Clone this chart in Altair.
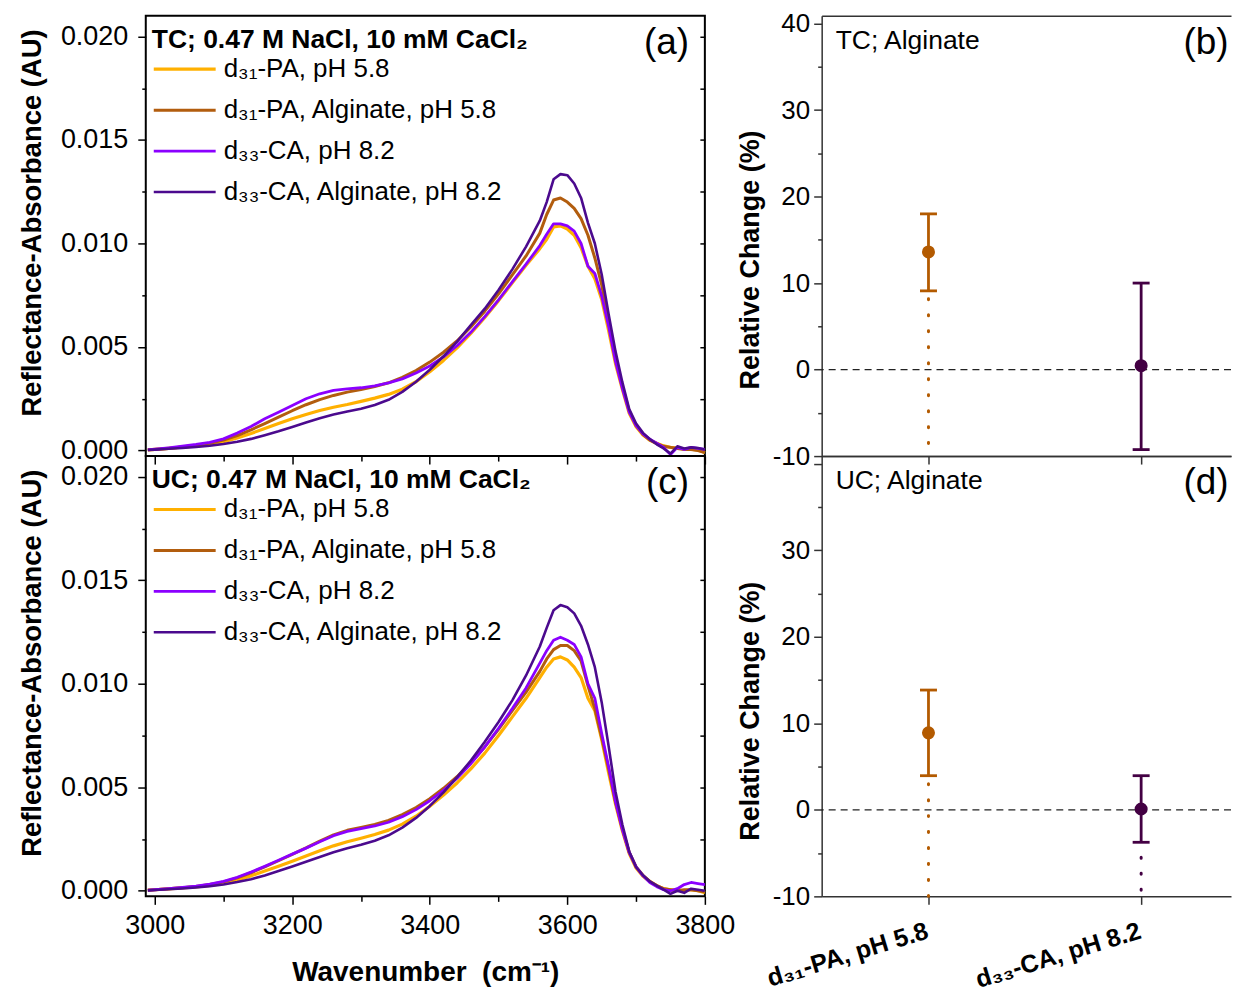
import altair as alt
import pandas as pd

FONT = "Liberation Sans"

# ---------------- spectra (values in 1e-3 AU) ----------------
wavenumber = [2990, 3000, 3020, 3040, 3060, 3080, 3100, 3120, 3140, 3160,
              3180, 3200, 3220, 3240, 3260, 3280, 3300, 3320, 3340, 3360,
              3380, 3400, 3420, 3440, 3460, 3480, 3500, 3520, 3540, 3560,
              3570, 3580, 3590, 3600, 3610, 3620, 3630, 3640, 3650, 3660,
              3670, 3680, 3690, 3700, 3710, 3720, 3730, 3740, 3750, 3760,
              3770, 3780, 3790, 3800]

tc_pa = [0.03, 0.05, 0.10, 0.16, 0.22, 0.30, 0.42, 0.60, 0.82, 1.06,
         1.30, 1.53, 1.74, 1.93, 2.09, 2.22, 2.37, 2.53, 2.71, 2.96,
         3.32, 3.80, 4.35, 4.97, 5.67, 6.43, 7.24, 8.10, 8.95, 9.75,
         10.2, 10.8, 10.85, 10.7, 10.4, 9.8, 8.9, 8.3, 7.3, 5.8,
         4.2, 2.95, 1.8, 1.15, 0.75, 0.5, 0.35, 0.22, 0.15, 0.12,
         0.08, 0.06, 0.02, -0.1]
tc_pa_alg = [0.03, 0.05, 0.10, 0.17, 0.25, 0.35, 0.50, 0.72, 1.00, 1.30,
             1.61, 1.92, 2.21, 2.46, 2.66, 2.82, 2.95, 3.09, 3.27, 3.53,
             3.86, 4.27, 4.75, 5.30, 5.98, 6.73, 7.57, 8.48, 9.40, 10.5,
             11.4, 12.1, 12.2, 12.0, 11.7, 11.2, 10.4, 9.3, 8.0, 6.2,
             4.5, 3.1, 1.9, 1.2, 0.78, 0.5, 0.33, 0.2, 0.15, 0.1,
             0.05, 0.05, 0.0, -0.1]
tc_ca = [0.03, 0.06, 0.13, 0.21, 0.29, 0.39, 0.56, 0.84, 1.16, 1.53,
         1.85, 2.17, 2.50, 2.74, 2.90, 2.98, 3.03, 3.12, 3.27, 3.46,
         3.74, 4.08, 4.52, 5.07, 5.72, 6.47, 7.28, 8.15, 9.0, 9.9,
         10.45, 10.95, 10.95, 10.85, 10.6, 10.0, 8.9, 8.55, 7.45, 6.0,
         4.3, 3.0, 1.85, 1.2, 0.8, 0.55, 0.35, 0.15, -0.2, 0.15,
         0.05, 0.15, 0.1, 0.05]
tc_ca_alg = [0.02, 0.04, 0.08, 0.12, 0.17, 0.23, 0.31, 0.42, 0.56, 0.74,
             0.93, 1.14, 1.35, 1.56, 1.74, 1.88, 2.02, 2.20, 2.45, 2.83,
             3.32, 3.90, 4.55, 5.27, 6.07, 6.85, 7.75, 8.75, 9.85, 11.1,
             12.0, 13.1, 13.35, 13.3, 12.9, 12.2, 11.0, 10.0, 8.5, 6.6,
             4.8, 3.3, 2.0, 1.3, 0.85, 0.55, 0.3, 0.1, -0.15, 0.2,
             0.1, 0.15, 0.12, 0.05]

uc_pa = [0.03, 0.05, 0.09, 0.14, 0.19, 0.26, 0.36, 0.52, 0.72, 0.95,
         1.19, 1.43, 1.68, 1.93, 2.17, 2.37, 2.54, 2.72, 2.93, 3.22,
         3.60, 4.08, 4.62, 5.22, 5.90, 6.65, 7.50, 8.40, 9.30, 10.3,
         10.8, 11.2, 11.3, 11.15, 10.8, 10.3, 9.3, 8.7, 7.3, 5.7,
         4.2, 2.9, 1.8, 1.1, 0.7, 0.45, 0.25, 0.1, 0.05, 0.05,
         0.0, 0.05, 0.0, -0.1]
uc_pa_alg = [0.03, 0.05, 0.10, 0.15, 0.21, 0.30, 0.43, 0.62, 0.87, 1.15,
             1.45, 1.76, 2.07, 2.40, 2.70, 2.92, 3.06, 3.20, 3.40, 3.68,
             4.02, 4.45, 4.95, 5.52, 6.20, 6.95, 7.80, 8.70, 9.60, 10.6,
             11.2, 11.65, 11.85, 11.85, 11.6, 11.1, 9.9, 8.8, 7.4, 5.9,
             4.3, 3.0, 1.85, 1.15, 0.75, 0.45, 0.25, 0.1, 0.05, 0.0,
             0.05, 0.05, 0.0, -0.05]
uc_ca = [0.03, 0.05, 0.10, 0.16, 0.22, 0.32, 0.45, 0.65, 0.90, 1.18,
         1.47, 1.77, 2.06, 2.37, 2.66, 2.87, 3.00, 3.13, 3.31, 3.58,
         3.92, 4.35, 4.85, 5.45, 6.15, 6.95, 7.85, 8.80, 9.80, 11.0,
         11.6, 12.1, 12.25, 12.1, 11.9, 11.3, 10.0, 9.3, 7.6, 6.0,
         4.3, 2.95, 1.85, 1.15, 0.72, 0.4, 0.2, 0.05, 0.0, 0.1,
         0.3, 0.4, 0.35, 0.3]
uc_ca_alg = [0.02, 0.04, 0.07, 0.11, 0.16, 0.22, 0.30, 0.42, 0.56, 0.74,
             0.95, 1.17, 1.40, 1.63, 1.86, 2.05, 2.22, 2.42, 2.68, 3.05,
             3.52, 4.10, 4.75, 5.50, 6.30, 7.20, 8.15, 9.20, 10.4, 11.8,
             12.7, 13.55, 13.8, 13.7, 13.4, 12.8, 11.9, 10.8, 9.1, 7.0,
             4.8, 3.2, 1.9, 1.15, 0.75, 0.45, 0.25, 0.05, -0.15, 0.0,
             -0.1, 0.1, 0.05, 0.0]

series_names = ["d₃₁-PA, pH 5.8", "d₃₁-PA, Alginate, pH 5.8",
                "d₃₃-CA, pH 8.2", "d₃₃-CA, Alginate, pH 8.2"]
line_colors = ["#FFB000", "#B25D0E", "#8B00FF", "#4B0A8E"]
line_widths = [3.2, 2.6, 3.2, 2.6]

x_ticks = [3000, 3100, 3200, 3300, 3400, 3500, 3600, 3700, 3800]
y_ticks = [0.0, 0.0025, 0.005, 0.0075, 0.01, 0.0125, 0.015, 0.0175, 0.02]

# ---------------- relative change panels ----------------
samples = ["d₃₁-PA, pH 5.8", "d₃₃-CA, pH 8.2"]
sample_colors = ["#B35A00", "#430043"]
tc_change = [13.6, 0.45]
tc_low = [9.1, -9.25]
tc_high = [18.0, 10.0]
tc_dot_top = [9.1, None]
uc_change = [8.9, 0.1]
uc_low = [3.95, -3.75]
uc_high = [13.85, 3.95]
uc_dot_top = [3.95, -4.55]
dot_bottom = -10
change_ticks = [-10, -5, 0, 5, 10, 15, 20, 25, 30, 35, 40]


def spectra_df(series):
    rows = []
    for name, vals in zip(series_names, series):
        for w, v in zip(wavenumber, vals):
            rows.append({"wavenumber": w, "absorbance": v / 1000.0, "series": name})
    return pd.DataFrame(rows)


def spectra_panel(series, legend_title, tag, bottom):
    df = spectra_df(series)
    xs = alt.Scale(domain=[2987, 3800], nice=False, zero=False)
    ys = alt.Scale(domain=[-0.00027, 0.0210], nice=False, zero=False)
    x_axis = alt.Axis(
        values=x_ticks, labels=bottom,
        labelExpr="datum.value % 200 == 0 ? format(datum.value, 'd') : ''",
        tickSize={"condition": {"test": "datum.value % 200 == 0", "value": 8}, "value": 5},
        tickWidth=1.5, tickColor="black", domain=False, grid=False,
        labelFontSize=27, labelPadding=8, labelFlush=False, labelOverlap=False,
        titleFontSize=28, titleFontWeight="bold", titlePadding=20)
    y_axis = alt.Axis(
        values=y_ticks,
        labelExpr="round(datum.value*400) % 2 == 0 ? format(datum.value, '.3f') : ''",
        tickSize={"condition": {"test": "round(datum.value*400) % 2 == 0", "value": 8}, "value": 4},
        tickWidth=1.5, tickColor="black", domain=False, grid=False,
        labelFontSize=27, labelPadding=10, labelOverlap=False, labelFlush=False,
        titleFontSize=27.5, titleFontWeight="bold", titlePadding=14, titleY=207)
    legend = alt.Legend(
        orient="none", legendX=6, legendY=11, direction="vertical",
        title=legend_title, titleFontSize=26.5, titleFontWeight="bold", titleFont=FONT,
        titleColor="black", titleLimit=700, titlePadding=3,
        symbolType="stroke", symbolSize=3844, symbolStrokeWidth=3.5,
        labelFontSize=26, labelFont=FONT, labelColor="black", labelLimit=700,
        labelOffset=6, clipHeight=26, rowPadding=15, padding=0)
    lines = alt.Chart(df).mark_line(strokeJoin="round").encode(
        x=alt.X("wavenumber:Q", scale=xs, axis=x_axis,
                title="Wavenumber\u00a0 (cm⁻¹)" if bottom else None),
        y=alt.Y("absorbance:Q", scale=ys, axis=y_axis, title="Reflectance-Absorbance (AU)"),
        color=alt.Color("series:N", scale=alt.Scale(domain=series_names, range=line_colors),
                        legend=legend),
        strokeWidth=alt.StrokeWidth("series:N", scale=alt.Scale(domain=series_names, range=line_widths),
                                    legend=None),
    )
    right_axis = alt.Axis(orient="right", values=y_ticks, labels=False, domain=False,
                          ticks=True, tickSize=5, tickColor="black", tickWidth=1.5,
                          offset=-5, grid=False)
    tag_df = pd.DataFrame({"x": [3777], "y": [0.0197], "t": [tag]})
    tag_layer = alt.Chart(tag_df).mark_text(
        align="right", baseline="middle", fontSize=37, font=FONT, color="black").encode(
        x=alt.X("x:Q", scale=xs, axis=None),
        y=alt.Y("y:Q", scale=ys, axis=right_axis, title=None),
        text="t:N")
    return alt.layer(lines, tag_layer).resolve_axis(x="independent", y="independent").properties(
        width=560, height=441)


def change_panel(vals, lows, highs, dot_tops, label_text, tag, bottom, title_y):
    df = pd.DataFrame({"sample": samples, "value": vals, "low": lows, "high": highs})
    dots = pd.DataFrame({
        "sample": [s for s, d in zip(samples, dot_tops) if d is not None],
        "top": [d for d in dot_tops if d is not None],
    })
    dots["bottom"] = dot_bottom
    xs = alt.Scale(type="point", domain=samples, padding=0.4624, align=0.5431)
    ys = alt.Scale(domain=[-10, 40.9], nice=False, zero=False)
    cs = alt.Scale(domain=samples, range=sample_colors)
    if bottom:
        lab_expr = "datum.value % 10 == 0 && datum.value < 40 ? '' + datum.value : ''"
    else:
        lab_expr = "datum.value % 10 == 0 ? '' + datum.value : ''"
    y_axis = alt.Axis(
        values=change_ticks, labelExpr=lab_expr,
        tickSize={"condition": {"test": "datum.value % 10 == 0", "value": 8}, "value": 4},
        tickWidth=1.5, tickColor="#333333", domain=True, domainColor="#333333", domainWidth=1.5,
        grid=False, labelFontSize=26, labelPadding=4, labelOverlap=False, labelFlush=False,
        titleFontSize=27, titleFontWeight="bold", titlePadding=8, titleY=title_y)
    x_axis = alt.Axis(
        labels=bottom, labelAngle=343, labelAlign="right", labelBaseline="top",
        labelFontSize=25, labelFontWeight="bold", labelPadding=14, labelOffset=-5,
        labelLimit=400, labelOverlap=False,
        tickSize=8, tickWidth=1.5, tickColor="#333333",
        domain=True, domainColor="#333333", domainWidth=1.5, grid=False)
    top_axis = alt.Axis(orient="top", labels=False, ticks=False, domain=True,
                        domainColor="#333333", domainWidth=1.5, grid=False)
    col = alt.Color("sample:N", scale=cs, legend=None)
    xn = alt.X("sample:N", scale=xs, axis=None)

    zero = alt.Chart(pd.DataFrame({"zero": [0]})).mark_rule(
        color="#222222", strokeWidth=1.3, strokeDash=[7, 5]).encode(
        y=alt.Y("zero:Q", scale=ys, axis=None))
    dotted = alt.Chart(dots).mark_rule(
        strokeWidth=3, strokeDash=[1, 15], strokeDashOffset=8, strokeCap="round").encode(
        x=xn, y=alt.Y("top:Q", scale=ys, axis=None), y2="bottom:Q", color=col)
    stems = alt.Chart(df).mark_rule(strokeWidth=2.8).encode(
        x=xn, y=alt.Y("low:Q", scale=ys, axis=None), y2="high:Q", color=col)
    caps_lo = alt.Chart(df).mark_tick(thickness=2.8, size=17, opacity=1).encode(
        x=xn, y=alt.Y("low:Q", scale=ys, axis=None), color=col)
    caps_hi = alt.Chart(df).mark_tick(thickness=2.8, size=17, opacity=1).encode(
        x=xn, y=alt.Y("high:Q", scale=ys, axis=None), color=col)
    points = alt.Chart(df).mark_circle(size=170, opacity=1).encode(
        x=alt.X("sample:N", scale=xs, axis=x_axis, title=None),
        y=alt.Y("value:Q", scale=ys, axis=y_axis, title="Relative Change (%)"),
        color=col)
    label_layer = alt.Chart(pd.DataFrame({"sample": [samples[0]], "y": [38.0], "t": [label_text]})).mark_text(
        align="left", baseline="middle", dx=-93, fontSize=26.5, font=FONT, color="black").encode(
        x=alt.X("sample:N", scale=xs, axis=top_axis, title=None),
        y=alt.Y("y:Q", scale=ys, axis=None), text="t:N")
    tag_layer = alt.Chart(pd.DataFrame({"sample": [samples[1]], "y": [37.8], "t": [tag]})).mark_text(
        align="center", baseline="middle", dx=65, fontSize=37, font=FONT, color="black").encode(
        x=xn, y=alt.Y("y:Q", scale=ys, axis=None), text="t:N")
    return alt.layer(zero, dotted, stems, caps_lo, caps_hi, points, label_layer, tag_layer).resolve_axis(
        x="independent", y="independent").properties(
        width=410, height=441, view=alt.ViewBackground(stroke="transparent"))


panel_a = spectra_panel([tc_pa, tc_pa_alg, tc_ca, tc_ca_alg],
                        "TC; 0.47 M NaCl, 10 mM CaCl₂", "(a)", False)
panel_c = spectra_panel([uc_pa, uc_pa_alg, uc_ca, uc_ca_alg],
                        "UC; 0.47 M NaCl, 10 mM CaCl₂", "(c)", True)
panel_b = change_panel(tc_change, tc_low, tc_high, tc_dot_top, "TC; Alginate", "(b)", False, 244)
panel_d = change_panel(uc_change, uc_low, uc_high, uc_dot_top, "UC; Alginate", "(d)", True, 255)

chart = alt.concat(
    panel_a, panel_b, panel_c, panel_d, columns=2,
    spacing=alt.RowColnumber(row=0, column=117), bounds="flush",
).resolve_scale(
    color="independent", strokeWidth="independent"
).resolve_legend(
    color="independent", strokeWidth="independent"
).properties(
    padding={"left": 9, "top": 0, "right": 0, "bottom": 0},
    background="white",
).configure_view(
    stroke="black", strokeWidth=2
).configure_axis(
    labelFont=FONT, titleFont=FONT, labelColor="black", titleColor="black"
).configure_legend(
    labelFont=FONT, titleFont=FONT
)

chart.save("out.html", embed_options={"renderer": "svg", "actions": False})
